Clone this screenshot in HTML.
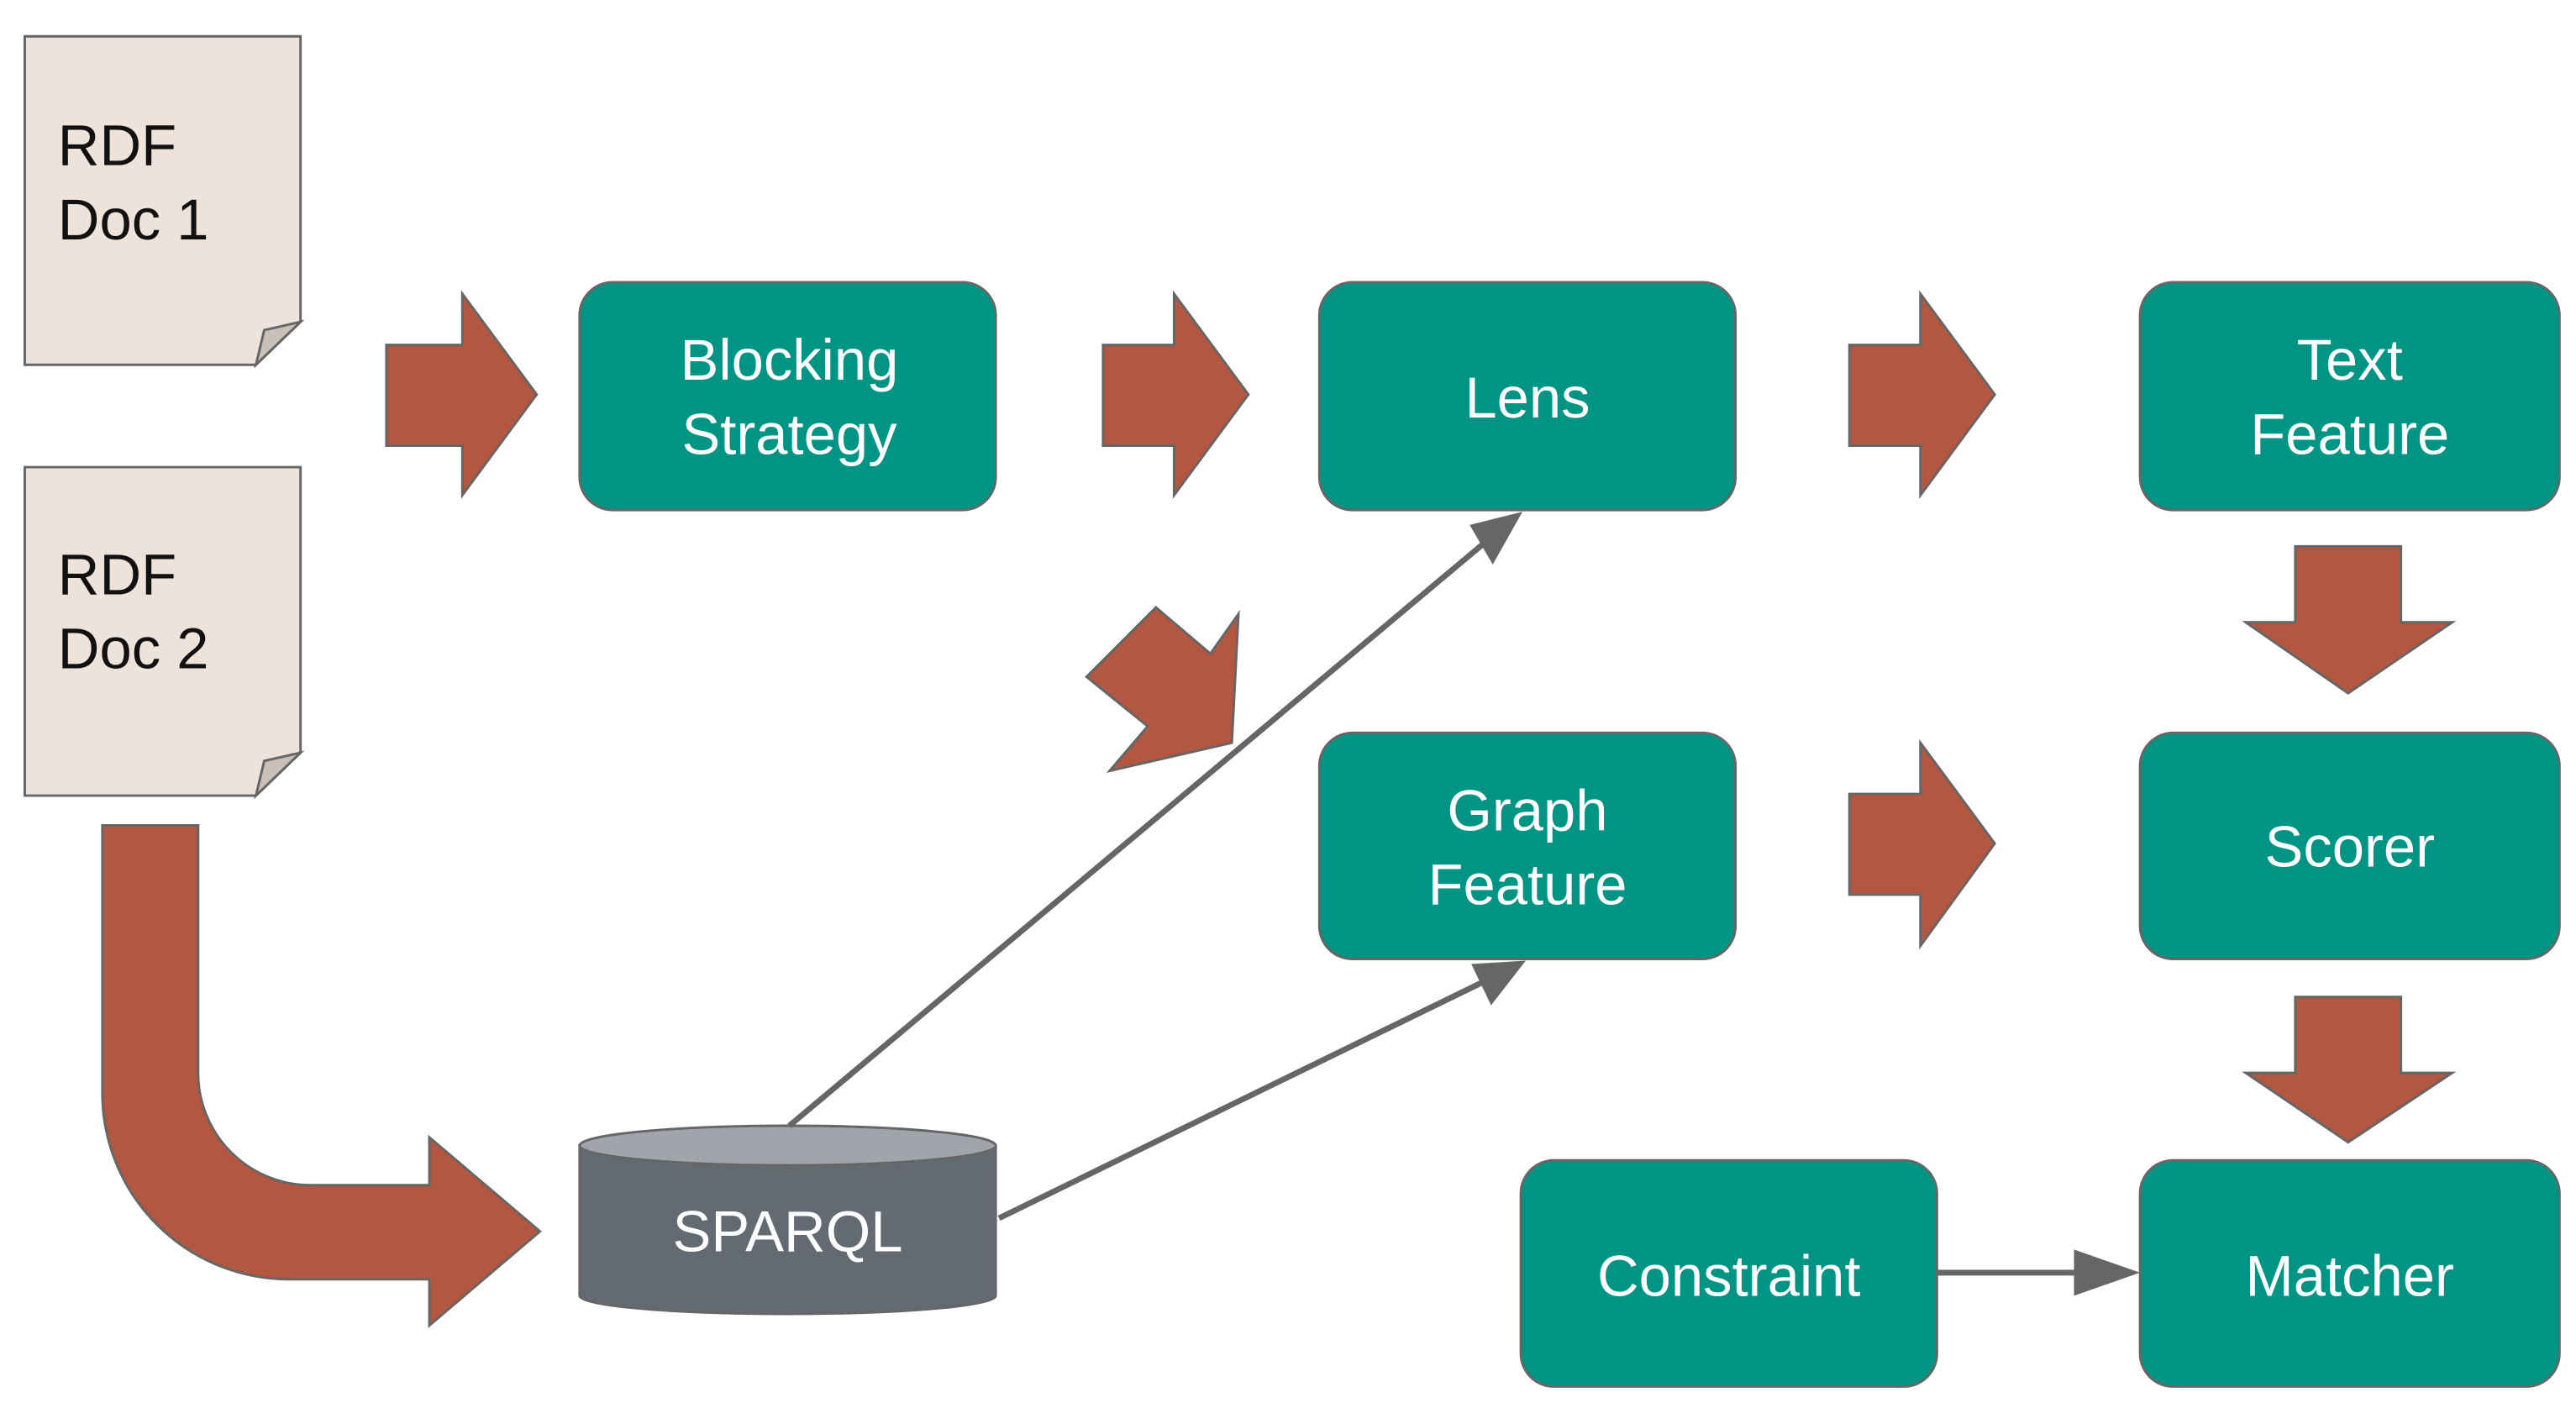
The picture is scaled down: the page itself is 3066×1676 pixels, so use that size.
<!DOCTYPE html>
<html><head><meta charset="utf-8"><style>
html,body{margin:0;padding:0;background:#fff;}
svg{display:block;}
text{font-family:"Liberation Sans",sans-serif;}
</style></head><body>
<svg width="3066" height="1676" viewBox="0 0 1560 853" preserveAspectRatio="none" xmlns="http://www.w3.org/2000/svg">
<g stroke="#666" stroke-width="1.5">
<path d="M15,22 H182 V195 L155,221 H15 Z" fill="#ede3da"/>
<path d="M182,195 L155,221 L160,200 Z" fill="#c9c0b8"/>
<path d="M15,283 H182 V456 L155,482 H15 Z" fill="#ede3da"/>
<path d="M182,456 L155,482 L160,461 Z" fill="#c9c0b8"/>
<g fill="#b35741">
<path d="M234,209 H280 V178 L325,239 L280,300 V270 H234 Z"/>
<path d="M668,209 H711 V178 L756,239 L711,300 V270 H668 Z"/>
<path d="M1120,209 H1163 V178 L1208,239 L1163,300 V270 H1120 Z"/>
<path d="M1120,481 H1163 V450 L1208,511 L1163,573 V542 H1120 Z"/>
<path d="M1390,331 H1454 V377 H1485 L1422,420 L1360,377 H1390 Z"/>
<path d="M1390,604 H1454 V650 H1485 L1422,692 L1360,650 H1390 Z"/>
<path d="M700,368 L733,396 L750,372 L746,450 L672,467 L695,440 L658,410 Z"/>
<path d="M62,500 H120 V650 A68,68 0 0 0 188,718 H260 V689 L327,746 L260,803 V775 H175 A113,113 0 0 1 62,662 Z"/>
</g>
<g fill="#009484">
<rect x="351" y="171" width="252" height="138" rx="20"/>
<rect x="799" y="171" width="252" height="138" rx="20"/>
<rect x="1296" y="171" width="254" height="138" rx="20"/>
<rect x="799" y="444" width="252" height="137" rx="20"/>
<rect x="1296" y="444" width="254" height="137" rx="20"/>
<rect x="921" y="703" width="252" height="137" rx="20"/>
<rect x="1296" y="703" width="254" height="137" rx="20"/>
</g>
<path d="M351,694 V785 A126,11 0 0 0 603,785 V694 Z" fill="#636a72"/>
<ellipse cx="477" cy="694" rx="126" ry="12" fill="#a1a5ab"/>
</g>
<g stroke="#666" stroke-width="3.5" fill="none">
<line x1="478" y1="682" x2="900" y2="328"/>
<line x1="605" y1="738" x2="900" y2="594"/>
<line x1="1173" y1="771" x2="1260" y2="771"/>
</g>
<path d="M922,310 L890,318 L904,342 Z" fill="#666"/>
<path d="M924,582 L891,584 L903,609 Z" fill="#666"/>
<path d="M1296,771 L1256,757 L1256,785 Z" fill="#666"/>
<g font-size="35" fill="#111">
<text x="35" y="100">RDF</text><text x="35" y="145">Doc 1</text>
<text x="35" y="360">RDF</text><text x="35" y="405">Doc 2</text>
</g>
<g font-size="35" fill="#fff" text-anchor="middle">
<text x="478" y="230">Blocking</text><text x="478" y="275">Strategy</text>
<text x="925" y="253">Lens</text>
<text x="1423" y="230">Text</text><text x="1423" y="275">Feature</text>
<text x="925" y="503">Graph</text><text x="925" y="548">Feature</text>
<text x="1423" y="525">Scorer</text>
<text x="1047" y="785">Constraint</text>
<text x="1423" y="785">Matcher</text>
<text x="477" y="758">SPARQL</text>
</g>
</svg>
</body></html>
